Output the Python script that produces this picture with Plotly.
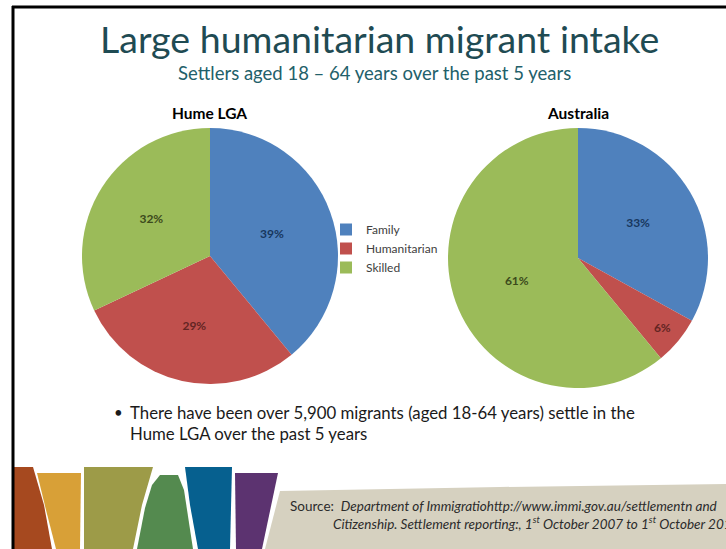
import plotly.graph_objects as go

# --- data -------------------------------------------------------------
categories = ["Family", "Humanitarian", "Skilled"]
hume_share = [39, 29, 32]        # % of settlers, Hume LGA
australia_share = [33, 6, 61]    # % of settlers, Australia

slice_colors = ["#4f81bd", "#c0504d", "#9bbb59"]
label_colors = ["#17375e", "#632523", "#3b4a1c"]

W, H = 726, 549
FONT = "Lato, 'Open Sans', sans-serif"


def px(x):
    return x / W


def py(y):
    return 1 - y / H


def path(points):
    pts = [f"{px(x):.5f},{py(y):.5f}" for x, y in points]
    return "M" + " L".join(pts) + " Z"


fig = go.Figure()

common = dict(
    labels=categories,
    sort=False,
    direction="clockwise",
    rotation=0,
    marker=dict(colors=slice_colors, line=dict(width=0)),
    texttemplate="%{value}%",
    textposition="inside",
    insidetextorientation="horizontal",
    textfont=dict(family=FONT, size=12, color=label_colors, weight="bold"),
    hoverinfo="label+percent",
)

fig.add_trace(go.Pie(
    values=hume_share, name="Hume LGA",
    domain=dict(x=[px(82), px(338)], y=[py(384), py(128)]),
    showlegend=True, **common))
fig.add_trace(go.Pie(
    values=australia_share, name="Australia",
    domain=dict(x=[px(448), px(708)], y=[py(388), py(128)]),
    showlegend=False, **common))

annotations = [
    dict(x=px(380), y=py(38), text="Large humanitarian migrant intake",
         font=dict(family=FONT, size=37.5, color="#1f4b53")),
    dict(x=px(375), y=py(73), text="Settlers aged 18 \u2013 64 years over the past 5 years",
         font=dict(family=FONT, size=18.5, color="#22606a")),
    dict(x=px(210), y=py(113), text="<b>Hume LGA</b>",
         font=dict(family=FONT, size=15.5, color="#000000")),
    dict(x=px(578), y=py(113), text="<b>Australia</b>",
         font=dict(family=FONT, size=15.5, color="#000000")),
    dict(x=px(112), y=py(412), xanchor="left", text="\u2022",
         font=dict(family=FONT, size=15, color="#1a1a1a")),
    dict(x=px(128), y=py(412), xanchor="left",
         text="There have been over 5,900 migrants (aged 18-64 years) settle in the",
         font=dict(family=FONT, size=16.8, color="#1a1a1a")),
    dict(x=px(128), y=py(433), xanchor="left",
         text="Hume LGA over the past 5 years",
         font=dict(family=FONT, size=16.8, color="#1a1a1a")),
    dict(x=px(288), y=py(506), xanchor="left",
         text="Source:  <i>Department of Immigratiohttp://www.immi.gov.au/settlementn and</i>",
         font=dict(family=FONT, size=13.5, color="#2b2b2b")),
    dict(x=px(331), y=py(523), xanchor="left",
         text="<i>Citizenship. Settlement reporting:, 1<sup>st</sup> October 2007 to "
              "1<sup>st</sup> October 2012</i>",
         font=dict(family=FONT, size=13.5, color="#2b2b2b")),
]
for a in annotations:
    a.setdefault("xanchor", "center")
    a.update(xref="paper", yref="paper", showarrow=False, yanchor="middle")
fig.update_layout(annotations=annotations)

# decorative footer ribbons and slide frame
ribbons = [
    ("#a6491f", [(14, 467), (33, 467), (44, 505), (52, 549), (14, 549)]),
    ("#d8a037", [(37, 473), (81, 473), (80, 549), (56, 549), (46, 510)]),
    ("#9d9b48", [(84, 467), (153, 467), (142, 505), (133, 549), (84, 549)]),
    ("#548a4f", [(137, 549), (145, 508), (152, 485), (160, 475), (178, 475),
                 (184, 490), (193, 549)]),
    ("#06608f", [(185, 467), (232, 467), (230, 549), (198, 549), (190, 505)]),
    ("#5c3370", [(235, 473), (278, 473), (262, 549), (236, 549)]),
    ("#d6d1c0", [(280, 491), (500, 487), (726, 484), (726, 549), (265, 549)]),
]
shapes = []
for color, pts in ribbons:
    shapes.append(dict(type="path", xref="paper", yref="paper", path=path(pts),
                       fillcolor=color, line=dict(width=0), layer="below"))
shapes.append(dict(type="line", xref="paper", yref="paper",
                   x0=px(12), x1=px(726), y0=py(7), y1=py(7),
                   line=dict(color="#000000", width=3)))
shapes.append(dict(type="line", xref="paper", yref="paper",
                   x0=px(13), x1=px(13), y0=py(6), y1=py(549),
                   line=dict(color="#000000", width=3)))
fig.update_layout(shapes=shapes)

fig.update_layout(
    width=W, height=H,
    margin=dict(l=0, r=0, t=0, b=0),
    paper_bgcolor="#ffffff",
    plot_bgcolor="#ffffff",
    showlegend=True,
    legend=dict(x=px(326), y=py(215), xanchor="left", yanchor="top",
                font=dict(family=FONT, size=12, color="#404040"),
                tracegroupgap=0,
                bgcolor="rgba(0,0,0,0)", borderwidth=0),
)

fig.write_html("out.html")
